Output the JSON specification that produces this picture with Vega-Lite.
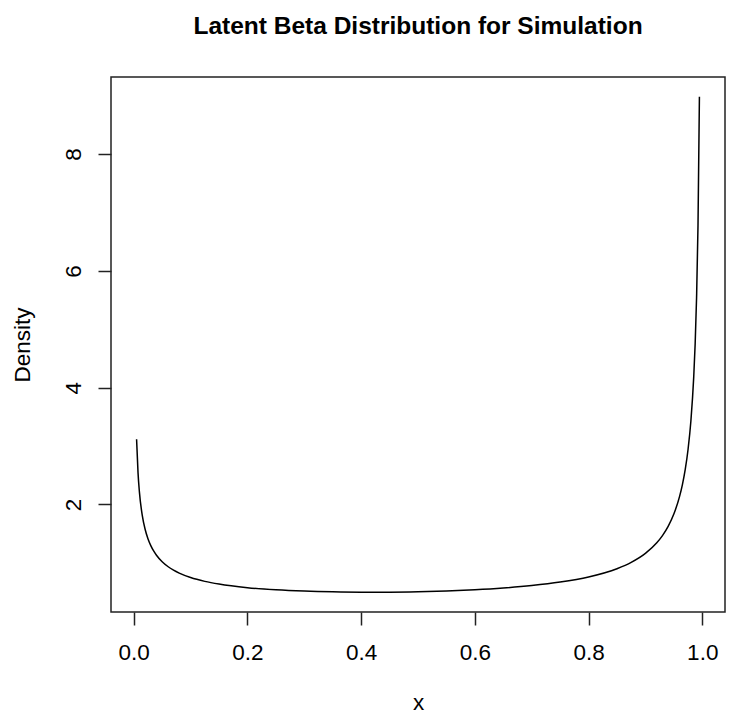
{
  "$schema": "https://vega.github.io/schema/vega-lite/v6.json",
  "autosize": {"type": "none"},
  "padding": {"left": 111, "top": 77, "right": 25, "bottom": 110},
  "width": 614,
  "height": 535,
  "background": "white",
  "title": {
    "text": "Latent Beta Distribution for Simulation",
    "font": "Liberation Sans",
    "fontSize": 24.5,
    "fontWeight": "bold",
    "color": "black",
    "anchor": "middle",
    "frame": "group",
    "baseline": "alphabetic",
    "offset": 19
  },
  "data": {
    "values": [
      {"x": 0.005, "density": 3.1160},
      {"x": 0.0075, "density": 2.5487},
      {"x": 0.01, "density": 2.2112},
      {"x": 0.015, "density": 1.8118},
      {"x": 0.02, "density": 1.5747},
      {"x": 0.025, "density": 1.4135},
      {"x": 0.03, "density": 1.2950},
      {"x": 0.035, "density": 1.2033},
      {"x": 0.04, "density": 1.1297},
      {"x": 0.05, "density": 1.0178},
      {"x": 0.06, "density": 0.9361},
      {"x": 0.07, "density": 0.8731},
      {"x": 0.08, "density": 0.8229},
      {"x": 0.1, "density": 0.7475},
      {"x": 0.125, "density": 0.6819},
      {"x": 0.15, "density": 0.6352},
      {"x": 0.2, "density": 0.5740},
      {"x": 0.25, "density": 0.5371},
      {"x": 0.3, "density": 0.5146},
      {"x": 0.35, "density": 0.5018},
      {"x": 0.4, "density": 0.4964},
      {"x": 0.45, "density": 0.4974},
      {"x": 0.5, "density": 0.5044},
      {"x": 0.55, "density": 0.5178},
      {"x": 0.6, "density": 0.5383},
      {"x": 0.65, "density": 0.5679},
      {"x": 0.7, "density": 0.6096},
      {"x": 0.75, "density": 0.6691},
      {"x": 0.8, "density": 0.7574},
      {"x": 0.85, "density": 0.8987},
      {"x": 0.875, "density": 1.0063},
      {"x": 0.9, "density": 1.1600},
      {"x": 0.92, "density": 1.3413},
      {"x": 0.93, "density": 1.4647},
      {"x": 0.94, "density": 1.6230},
      {"x": 0.95, "density": 1.8342},
      {"x": 0.96, "density": 2.1331},
      {"x": 0.965, "density": 2.3359},
      {"x": 0.97, "density": 2.5953},
      {"x": 0.975, "density": 2.9411},
      {"x": 0.98, "density": 3.4295},
      {"x": 0.985, "density": 4.1839},
      {"x": 0.9875, "density": 4.7474},
      {"x": 0.99, "density": 5.5430},
      {"x": 0.9925, "density": 6.7711},
      {"x": 0.995, "density": 8.9818}
    ]
  },
  "mark": {"type": "line", "color": "black", "strokeWidth": 1.5, "interpolate": "monotone"},
  "encoding": {
    "x": {
      "field": "x",
      "type": "quantitative",
      "scale": {"domain": [-0.04, 1.04], "nice": false, "zero": false},
      "axis": {
        "values": [0, 0.2, 0.4, 0.6, 0.8, 1.0],
        "format": ".1f",
        "domain": false,
        "grid": false,
        "ticks": true,
        "tickSize": 13,
        "tickWidth": 1.5,
        "tickColor": "#222",
        "labelFont": "Liberation Sans",
        "labelFontSize": 22.5,
        "labelColor": "black",
        "labelBaseline": "alphabetic",
        "labelPadding": 34,
        "labelFlush": false,
        "labelOverlap": false,
        "title": "x",
        "titleFont": "Liberation Sans",
        "titleFontSize": 22.5,
        "titleFontWeight": "normal",
        "titleColor": "black",
        "titleBaseline": "alphabetic",
        "titleAnchor": "middle",
        "titleX": 307,
        "titleY": 97
      }
    },
    "y": {
      "field": "density",
      "type": "quantitative",
      "scale": {"domain": [0.157, 9.321], "nice": false, "zero": false},
      "axis": {
        "values": [2, 4, 6, 8],
        "format": "d",
        "domain": false,
        "grid": false,
        "tickSize": 13,
        "tickWidth": 1.5,
        "tickColor": "#222",
        "labelFont": "Liberation Sans",
        "labelFontSize": 22.5,
        "labelColor": "black",
        "labelAngle": 270,
        "labelAlign": "center",
        "labelBaseline": "alphabetic",
        "labelPadding": 18,
        "labelOverlap": false,
        "labelFlush": false,
        "title": "Density",
        "titleFont": "Liberation Sans",
        "titleFontSize": 22.5,
        "titleFontWeight": "normal",
        "titleColor": "black",
        "titleAngle": 270,
        "titleAlign": "center",
        "titleBaseline": "alphabetic",
        "titleX": -82,
        "titleY": 267.5
      }
    }
  },
  "config": {
    "view": {"stroke": "#222", "strokeWidth": 1.5}
  }
}
